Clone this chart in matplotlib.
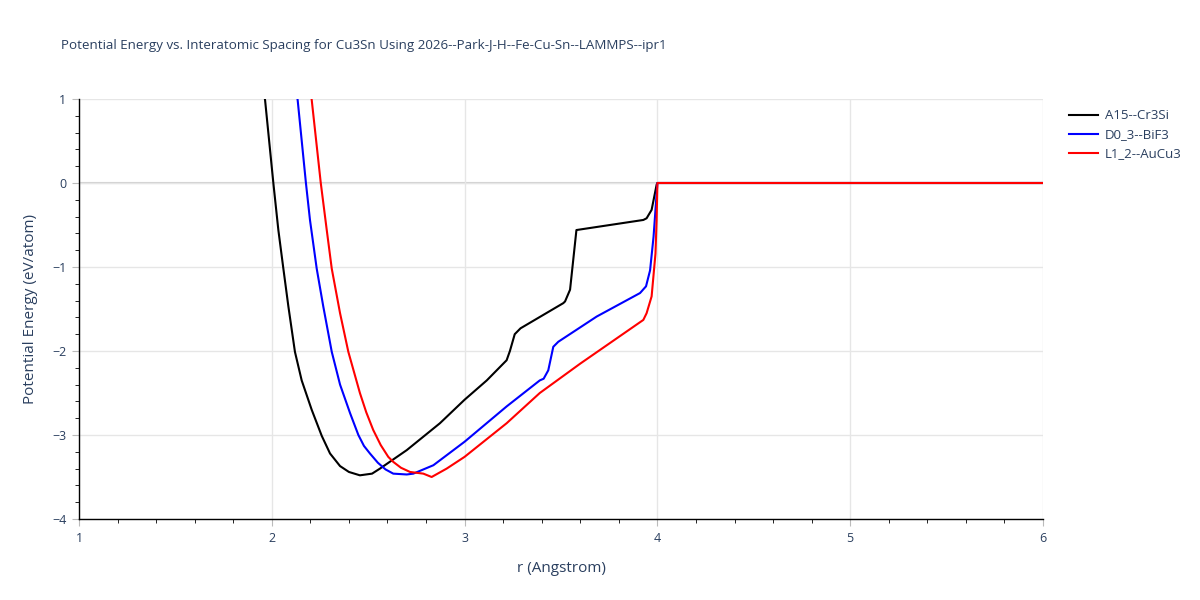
import matplotlib
matplotlib.use('Agg')
import matplotlib.pyplot as plt
from matplotlib.ticker import MultipleLocator, FuncFormatter

# data
r_a15 = [1.95, 1.965, 2.008, 2.034, 2.06, 2.086, 2.12, 2.155, 2.207, 2.259, 2.302, 2.354,
         2.40, 2.457, 2.52, 2.561, 2.70, 2.872, 3.0, 3.115, 3.218, 3.235, 3.26, 3.29,
         3.512, 3.521, 3.547, 3.58, 3.927, 3.944, 3.97, 3.996, 4.0, 6.0]
e_a15 = [1.15, 0.99, 0.0, -0.56, -1.02, -1.47, -2.01, -2.35, -2.70, -3.01, -3.22, -3.37,
         -3.44, -3.48, -3.46, -3.40, -3.18, -2.86, -2.58, -2.35, -2.11, -2.0, -1.80, -1.73,
         -1.43, -1.41, -1.27, -0.56, -0.44, -0.42, -0.32, -0.02, 0.0, 0.0]

r_d03 = [2.12, 2.134, 2.177, 2.198, 2.233, 2.267, 2.311, 2.354, 2.406, 2.449, 2.478, 2.509,
         2.55, 2.59, 2.63, 2.70, 2.734, 2.838, 3.0, 3.218, 3.39, 3.41, 3.434, 3.46, 3.486,
         3.685, 3.91, 3.941, 3.962, 3.98, 4.0, 6.0]
e_d03 = [1.15, 0.99, 0.0, -0.44, -1.02, -1.47, -2.01, -2.40, -2.74, -3.0, -3.13, -3.22,
         -3.33, -3.41, -3.46, -3.47, -3.46, -3.36, -3.08, -2.66, -2.35, -2.33, -2.23, -1.95, -1.89,
         -1.59, -1.31, -1.23, -1.04, -0.64, 0.0, 0.0]

r_l12 = [2.20, 2.207, 2.254, 2.285, 2.311, 2.354, 2.397, 2.457, 2.49, 2.526, 2.565, 2.604,
         2.63, 2.67, 2.717, 2.786, 2.829, 2.907, 3.0, 3.218, 3.39, 3.60, 3.927, 3.944, 3.97,
         3.99, 3.996, 4.0, 6.0]
e_l12 = [1.1, 0.99, 0.0, -0.56, -1.02, -1.55, -2.01, -2.50, -2.73, -2.94, -3.12, -3.26,
         -3.32, -3.39, -3.44, -3.46, -3.50, -3.40, -3.26, -2.86, -2.50, -2.15, -1.63, -1.55, -1.35,
         -0.84, -0.44, 0.0, 0.0]

names = ['A15--Cr3Si', 'D0_3--BiF3', 'L1_2--AuCu3']
colors = ['black', 'blue', 'red']

txt = '#2a3f5f'
plt.rcParams['font.family'] = ['Open Sans', 'DejaVu Sans']

fig = plt.figure(figsize=(12, 6), dpi=100)
ax = fig.add_axes([79 / 1200, 1 - 519 / 600, 964 / 1200, 420 / 600])

for rr, ee, name, c in zip([r_a15, r_d03, r_l12], [e_a15, e_d03, e_l12], names, colors):
    ax.plot(rr, ee, color=c, lw=1.5, label=name, zorder=3)

ax.set_xlim(1, 6)
ax.set_ylim(-4, 1)
ax.xaxis.set_major_locator(MultipleLocator(1))
ax.xaxis.set_minor_locator(MultipleLocator(0.2))
ax.yaxis.set_major_locator(MultipleLocator(1))
ax.yaxis.set_minor_locator(MultipleLocator(0.2))
ax.yaxis.set_major_formatter(FuncFormatter(lambda v, p: f'{v:.0f}'.replace('-', '\u2212')))

ax.grid(True, which='major', color='#e6e6e6', lw=1, zorder=0)
ax.axhline(0, color='#d0d0d0', lw=1.5, zorder=1)

for s in ['top', 'right']:
    ax.spines[s].set_visible(False)
for s in ['left', 'bottom']:
    ax.spines[s].set_color('black')
    ax.spines[s].set_linewidth(1)

ax.tick_params(which='major', direction='out', length=5, color='#bbbbbb', labelcolor=txt,
               labelsize=9, pad=4)
ax.tick_params(which='minor', direction='out', length=3, color='black')

ax.set_xlabel('r (Angstrom)', color=txt, fontsize=11, labelpad=12)
ax.set_ylabel('Potential Energy (eV/atom)', color=txt, fontsize=11, labelpad=10)

fig.text(61 / 1200, 1 - 45 / 600,
         'Potential Energy vs. Interatomic Spacing for Cu3Sn Using 2026--Park-J-H--Fe-Cu-Sn--LAMMPS--ipr1',
         color=txt, fontsize=9.6, va='center', ha='left')

leg = fig.legend(loc='upper left', bbox_to_anchor=(1064 / 1200, 1 - 104 / 600), frameon=False,
                 fontsize=9.5, handlelength=2.2, handletextpad=0.5, labelspacing=0.45,
                 borderaxespad=0)
for t in leg.get_texts():
    t.set_color(txt)

fig.savefig('out.png', dpi=100)
